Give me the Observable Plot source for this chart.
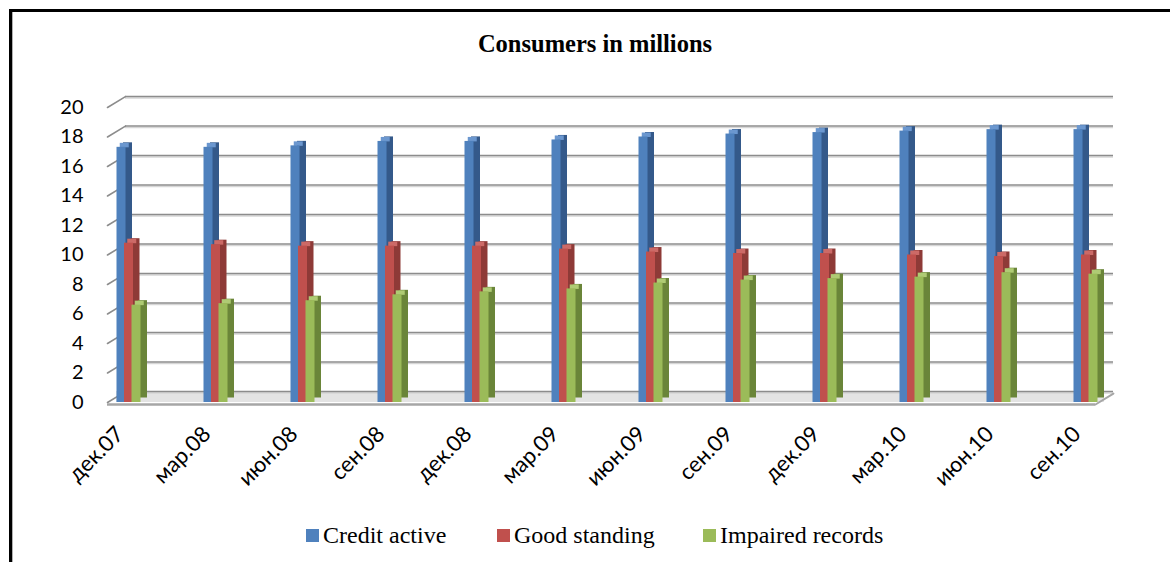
<!DOCTYPE html>
<html><head><meta charset="utf-8">
<script src="https://cdn.jsdelivr.net/npm/d3@7"></script>
<script src="https://cdn.jsdelivr.net/npm/@observablehq/plot@0.6"></script>
<style>
html,body{margin:0;padding:0;background:#fff;}
#wrap{position:relative;width:1170px;height:562px;overflow:hidden;background:#fff;}
#frame{position:absolute;left:9px;top:9px;width:1300px;height:700px;border-top:3px solid #000;border-left:3px solid #000;}
#frame2{position:absolute;left:12px;top:12px;width:1px;height:560px;background:#b0b0b0;}
#title{position:absolute;left:0;width:1190px;top:28px;text-align:center;font-family:"Liberation Serif","Times New Roman",serif;font-weight:bold;font-size:24.5px;line-height:32px;color:#000;}
#chart{position:absolute;left:0;top:60px;}
.leg{position:absolute;top:520px;font-family:"Liberation Serif","Times New Roman",serif;font-size:24px;line-height:30px;display:flex;align-items:center;color:#000;}
.leg span{font-family:"Liberation Serif","Times New Roman",serif;}
.sw{width:13px;height:13px;margin-right:4px;}
</style>
</head>
<body>
<div id="wrap">
  <div id="frame"></div><div id="frame2"></div>
  <div id="title">Consumers in millions</div>
  <div id="chart"></div>
</div>
<script>
// ---- data ----
const categories = ["дек.07","мар.08","июн.08","сен.08","дек.08","мар.09","июн.09","сен.09","дек.09","мар.10","июн.10","сен.10"];
const seriesNames = ["Credit active","Good standing","Impaired records"];
const creditActive = [17.3,17.3,17.4,17.7,17.7,17.8,18.0,18.2,18.3,18.4,18.5,18.5];
const goodStanding = [10.8,10.7,10.6,10.6,10.6,10.4,10.2,10.1,10.1,10.0,9.9,10.0];
const impairedRecords = [6.6,6.7,6.9,7.3,7.5,7.7,8.1,8.3,8.4,8.5,8.8,8.7];
const yTicks = [0,2,4,6,8,10,12,14,16,18,20];

// ---- styles ----
const frontColors = ["#4F81BD","#C0504D","#9BBB59"];
const sideColors  = ["#34598A","#8E3A37","#6A8539"];
const topColors   = ["#6B97CF","#CC6A67","#AFCB74"];
const insets = [[31.5,46.5],[39,39],[46.5,31.5]];

const seriesValues = [creditActive, goodStanding, impairedRecords];
const rows = seriesValues.map(vals => categories.map((c,i)=>({date:c, value: vals[i]})));

const lineShape = {draw(ctx, l){ ctx.moveTo(0,0); ctx.lineTo(0,-l); }};

const barMarks = [];
rows.forEach((data, s) => {
  const [il, ir] = insets[s];
  barMarks.push(Plot.barY(data, {x:"date", y:"value", insetLeft: il, insetRight: ir, dx: 6.5, dy: -4.5, fill: sideColors[s]}));
  barMarks.push(Plot.tickY(data, {x:"date", y:"value", insetLeft: il, insetRight: ir, dx: 3.25, dy: -2.25, stroke: topColors[s], strokeWidth: 4.5}));
  barMarks.push(Plot.barY(data, {x:"date", y:"value", insetLeft: il, insetRight: ir, fill: frontColors[s]}));
});

const chart = Plot.plot({
  width: 1170,
  height: 440,
  marginTop: 47,
  marginBottom: 98,
  marginLeft: 107,
  marginRight: 75,
  style: {fontFamily: "Lato, 'Open Sans', sans-serif", fontSize: "20px", color: "#000", background: "transparent"},
  x: {domain: categories, range: [84.5, 1128.5], padding: 0},
  y: {domain: [0, 20]},
  marks: [
    Plot.ruleY([0], {dx: 9, dy: -6, stroke: "#e3e3e3", strokeWidth: 11}),
    Plot.ruleY(yTicks, {dx: 18, dy: -9.5, stroke: "#d6d6d6", strokeWidth: 1.5}),
    Plot.ruleY(yTicks, {dx: 18, dy: -11, stroke: "#8c8c8c", strokeWidth: 1.6}),
    Plot.vector(yTicks, {y: d => d, frameAnchor: "left", length: 21, rotate: 58.6, anchor: "start", shape: lineShape, stroke: "#8c8c8c", strokeWidth: 1.6}),
    Plot.ruleY([0], {dy: 2, stroke: "#a6a6a6", strokeWidth: 2.5}),
    Plot.vector([0], {y: d => d, frameAnchor: "right", dy: 2, length: 21, rotate: 58.6, anchor: "start", shape: lineShape, stroke: "#a6a6a6", strokeWidth: 2}),
    ...barMarks,
    Plot.axisY({ticks: yTicks, tickSize: 0, tickPadding: 24, fontSize: 20, label: null}),
    Plot.axisX({tickSize: 0, tickRotate: -45, tickPadding: 28, dx: -9, fontSize: 22, label: null})
  ]
});
document.getElementById("chart").appendChild(chart);

// legend
const legLefts = [306, 497, 703];
seriesNames.forEach((n, s) => {
  const d = document.createElement("div");
  d.className = "leg";
  d.style.left = legLefts[s] + "px";
  d.innerHTML = `<span class="sw" style="background:${frontColors[s]}"></span><span>${n}</span>`;
  document.getElementById("wrap").appendChild(d);
});
</script>
</body></html>
